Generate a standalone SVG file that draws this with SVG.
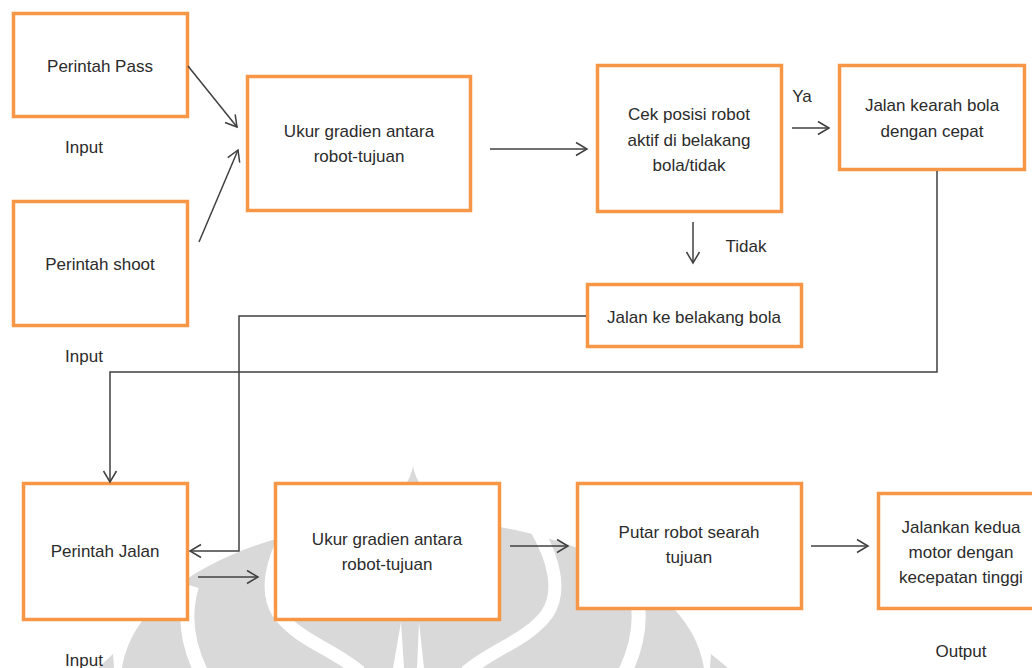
<svg xmlns="http://www.w3.org/2000/svg" width="1032" height="668" viewBox="0 0 1032 668">
<defs>
<marker id="arr" viewBox="-13 -9 15 18" refX="0" refY="0" markerWidth="15" markerHeight="18" markerUnits="userSpaceOnUse" orient="auto">
<path d="M-11,-6.5 L0,0 L-11,6.5" fill="none" stroke="#404040" stroke-width="1.5"/>
</marker>
</defs>
<style>
.box{fill:#fff;stroke:#f79646;stroke-width:3.5}
.t{font-family:"Liberation Sans",Arial,sans-serif;font-size:17px;fill:#2b2b2b;text-anchor:middle}
.c{fill:none;stroke:#404040;stroke-width:1.5}
.wm{fill:#d9d9d9}
.wb{fill:none;stroke:#fff}
</style>
<rect width="1032" height="668" fill="#fff"/>
<g id="watermark">
<path class="wm" d="M413,466 C418,492 442,515 500,527 C560,538 620,560 660,595 C690,622 700,645 704,668 L122,668 C126,645 136,622 166,595 C206,560 266,538 326,527 C384,515 408,492 413,466 Z"/>
<path class="wb" stroke-width="14" d="M192,586 C183,615 188,645 201,672"/>
<path class="wb" stroke-width="14" d="M634,586 C643,615 638,645 625,672"/>
<path class="wb" stroke-width="13" d="M289,530 C272,560 264,592 279,614 C298,640 335,650 360,672"/>
<path class="wb" stroke-width="13" d="M537,530 C554,560 562,592 547,614 C528,640 491,650 466,672"/>
<path fill="#fff" d="M401,622 L393,668 L404,668 Z"/>
<path fill="#fff" d="M419,622 L417,668 L424,668 Z"/>
<path class="wm" d="M113,654 L98,668 L114,668 Z"/>
<path class="wm" d="M711,654 L710,668 L728,668 Z"/>
</g>
<g id="n-pass"><rect class="box" x="13.5" y="13.5" width="174" height="103"/><text class="t" x="100" y="72">Perintah Pass</text></g>
<g id="n-shoot"><rect class="box" x="13.5" y="201.5" width="174" height="124"/><text class="t" x="100" y="270">Perintah shoot</text></g>
<g id="n-ukur1"><rect class="box" x="247.5" y="76.5" width="223" height="134"/><text class="t" x="359" y="137">Ukur gradien antara</text><text class="t" x="359" y="162">robot-tujuan</text></g>
<g id="n-cek"><rect class="box" x="597.5" y="65.5" width="184" height="146"/><text class="t" x="689" y="120">Cek posisi robot</text><text class="t" x="689" y="146">aktif di belakang</text><text class="t" x="689" y="171">bola/tidak</text></g>
<g id="n-kearah"><rect class="box" x="839.5" y="65.5" width="185" height="104"/><text class="t" x="932" y="111">Jalan kearah bola</text><text class="t" x="932" y="137">dengan cepat</text></g>
<g id="n-belakang"><rect class="box" x="587.5" y="284.5" width="214" height="62"/><text class="t" x="694" y="323">Jalan ke belakang bola</text></g>
<g id="n-jalan"><rect class="box" x="23.5" y="483.5" width="164" height="136"/><text class="t" x="105" y="557">Perintah Jalan</text></g>
<g id="n-ukur2"><rect class="box" x="275.5" y="483.5" width="224" height="136"/><text class="t" x="387" y="545">Ukur gradien antara</text><text class="t" x="387" y="570">robot-tujuan</text></g>
<g id="n-putar"><rect class="box" x="577.5" y="483.5" width="224" height="125"/><text class="t" x="689" y="538">Putar robot searah</text><text class="t" x="689" y="563">tujuan</text></g>
<g id="n-motor"><rect class="box" x="878.5" y="493.5" width="170" height="115"/><text class="t" x="961" y="533">Jalankan kedua</text><text class="t" x="961" y="558">motor dengan</text><text class="t" x="961" y="583">kecepatan tinggi</text></g>
<g id="connectors">
<path class="c" marker-end="url(#arr)" d="M188,66 L237,127"/>
<path class="c" marker-end="url(#arr)" d="M199,242 L238,150"/>
<path class="c" marker-end="url(#arr)" d="M490,149 L587,149"/>
<path class="c" marker-end="url(#arr)" d="M792,128 L829,128"/>
<path class="c" marker-end="url(#arr)" d="M693,222 L693,263"/>
<path class="c" marker-end="url(#arr)" d="M586,316 L239,316 L239,551 L190,551"/>
<path class="c" marker-end="url(#arr)" d="M937,171 L937,372 L110,372 L110,482"/>
<path class="c" marker-end="url(#arr)" d="M198,577 L258,577"/>
<path class="c" marker-end="url(#arr)" d="M510,546 L568,546"/>
<path class="c" marker-end="url(#arr)" d="M811,546 L868,546"/>
<text class="t" x="802" y="102">Ya</text>
<text class="t" x="746" y="252">Tidak</text>
</g>
<g id="labels">
<text class="t" x="84" y="153">Input</text>
<text class="t" x="84" y="362">Input</text>
<text class="t" x="84" y="666">Input</text>
<text class="t" x="961" y="657">Output</text>
</g>
</svg>
